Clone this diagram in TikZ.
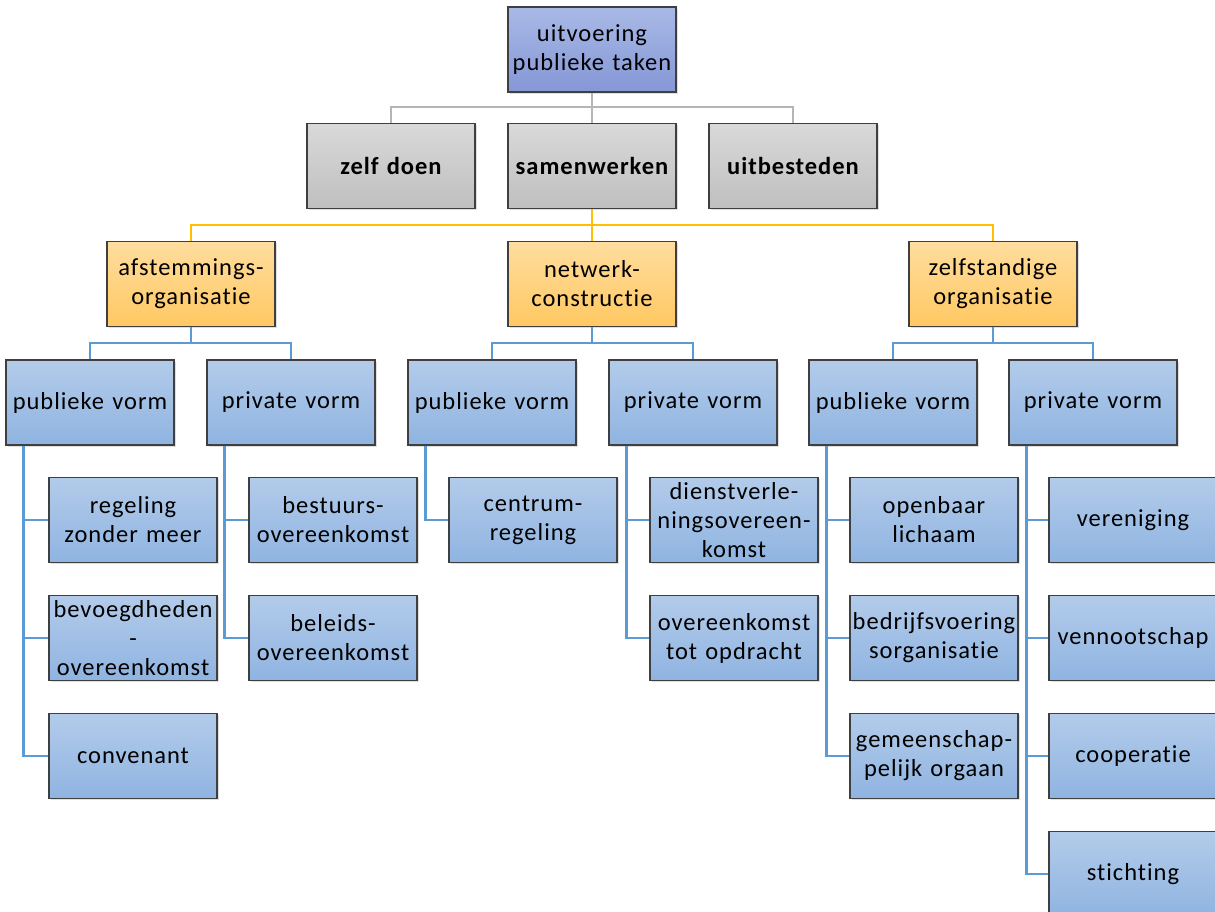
\documentclass[tikz,border=0pt]{standalone}
\usepackage{fontspec}
\setmainfont{Carlito}[LetterSpace=4,Ligatures={NoCommon,NoRare,NoContextual}]
\usetikzlibrary{shadows,calc}
\definecolor{bord}{HTML}{3F3F3F}
\definecolor{lgray}{HTML}{B5B5B5}
\definecolor{lyel}{HTML}{FFC000}
\definecolor{lblue}{HTML}{5B9BD5}
\definecolor{topA}{HTML}{A9B9E6}
\definecolor{topB}{HTML}{8597D6}
\definecolor{grA}{HTML}{D9D9D9}
\definecolor{grB}{HTML}{BFBFBF}
\definecolor{orA}{HTML}{FFDD9E}
\definecolor{orB}{HTML}{FFC862}
\definecolor{blA}{HTML}{B3CBEA}
\definecolor{blB}{HTML}{8FB4E1}
\tikzset{
  box/.style={draw=bord, line width=1.6pt, minimum width=168pt, minimum height=85pt,
    text width=166pt, align=center, font=\fontsize{24.5}{29}\selectfont, inner sep=1pt,
    drop shadow={shadow xshift=1.5pt, shadow yshift=-1.5pt, opacity=0.25}},
  topbox/.style={box, top color=topA, bottom color=topB},
  graybox/.style={box, top color=grA, bottom color=grB, font=\fontsize{24.5}{29}\selectfont\bfseries},
  orbox/.style={box, top color=orA, bottom color=orB},
  bluebox/.style={box, top color=blA, bottom color=blB},
  gline/.style={draw=lgray, line width=2.6pt},
  yline/.style={draw=lyel, line width=2.6pt},
  bline/.style={draw=lblue, line width=2.6pt},
}
\begin{document}
\begin{tikzpicture}[x=1pt,y=-1pt]
\useasboundingbox (0,0) rectangle (1215,911);
\clip (0,0) rectangle (1215,911);
\coordinate (j1) at (592,107);
\coordinate (j2) at (592,225);
\coordinate (ja) at (191,343);
\coordinate (jn) at (592,343);
\coordinate (jz) at (993,343);
% top
\node[topbox] (top) at (592,49.5) {uitvoering\\publieke taken};
% row 2
\node[graybox] (zelf) at (391,166) {zelf doen};
\node[graybox] (samen) at (592,166) {samenwerken};
\node[graybox] (uitb) at (793,166) {uitbesteden};
% row 3
\node[orbox] (afst) at (191,284) {afstemmings-\\organisatie};
\node[orbox] (netw) at (592,284) {netwerk-\\constructie};
\node[orbox] (zelfst) at (993,284) {zelfstandige\\organisatie};
% row 4
\node[bluebox] (p1) at (90,402.5) {publieke vorm};
\node[bluebox] (v1) at (291,402.5) {private vorm};
\node[bluebox] (p2) at (492,402.5) {publieke vorm};
\node[bluebox] (v2) at (693,402.5) {private vorm};
\node[bluebox] (p3) at (893,402.5) {publieke vorm};
\node[bluebox] (v3) at (1093,402.5) {private vorm};
% children
\node[bluebox] (p1a) at (133,520) {regeling\\zonder meer};
\node[bluebox] (p1b) at (133,638) {bevoegdheden\\-\\overeenkomst};
\node[bluebox] (p1c) at (133,756) {convenant};
\node[bluebox] (v1a) at (333,520) {bestuurs-\\overeenkomst};
\node[bluebox] (v1b) at (333,638) {beleids-\\overeenkomst};
\node[bluebox] (p2a) at (533,520) {centrum-\\regeling};
\node[bluebox] (v2a) at (734,520) {dienstverle-\\ningsovereen-\\komst};
\node[bluebox] (v2b) at (734,638) {overeenkomst\\tot opdracht};
\node[bluebox] (p3a) at (934,520) {openbaar\\lichaam};
\node[bluebox] (p3b) at (934,638) {bedrijfsvoering\\sorganisatie};
\node[bluebox] (p3c) at (934,756) {gemeenschap-\\pelijk orgaan};
\node[bluebox] (v3a) at (1133,520) {vereniging};
\node[bluebox] (v3b) at (1133,638) {vennootschap};
\node[bluebox] (v3c) at (1133,756) {cooperatie};
\node[bluebox] (v3d) at (1133,874) {stichting};
% gray connectors
\draw[gline] (top.south) -- (j1);
\draw[gline] (zelf.north) |- (j1) -| (uitb.north);
\draw[gline] (j1) -- (samen.north);
% yellow connectors
\draw[yline] (samen.south) -- (j2);
\draw[yline] (afst.north) |- (j2) -| (zelfst.north);
\draw[yline] (j2) -- (netw.north);
% blue connectors level 3
\draw[bline] (afst.south) -- (ja);
\draw[bline] (p1.north) |- (ja) -| (v1.north);
\draw[bline] (netw.south) -- (jn);
\draw[bline] (p2.north) |- (jn) -| (v2.north);
\draw[bline] (zelfst.south) -- (jz);
\draw[bline] (p3.north) |- (jz) -| (v3.north);
% child connectors
\foreach \pn/\cn in {p1/p1a,p1/p1b,p1/p1c,v1/v1a,v1/v1b,p2/p2a,v2/v2a,v2/v2b,p3/p3a,p3/p3b,p3/p3c,v3/v3a,v3/v3b,v3/v3c,v3/v3d}
  \draw[bline] ([xshift=18pt]\pn.south west) |- (\cn.west);
\end{tikzpicture}
\end{document}
